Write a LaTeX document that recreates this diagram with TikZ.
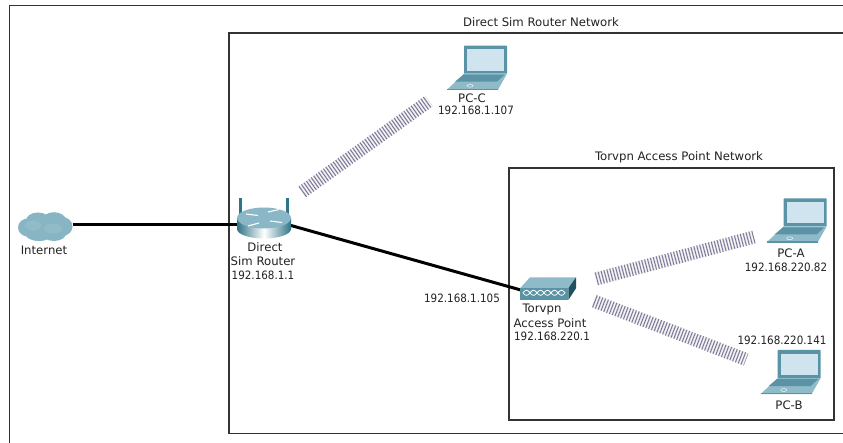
\documentclass[tikz,border=0pt]{standalone}
\usepackage{fontspec}
\setmainfont{DejaVu Sans}
\newfontfamily\ipfont[FakeStretch=0.9]{DejaVu Sans}
\usetikzlibrary{calc}
\definecolor{lapdark}{HTML}{5A93A6}
\definecolor{lapscreen}{HTML}{CFE4EE}
\definecolor{lapbase}{HTML}{8FBBC9}
\definecolor{routerside}{HTML}{2F7488}
\definecolor{framecol}{HTML}{333333}
\definecolor{txt}{HTML}{222222}
\definecolor{radiogray}{HTML}{CFCCD2}
\definecolor{radiodark}{HTML}{655C8C}
\tikzset{
  x=1pt,y=-1pt,
  framebox/.style={draw=framecol,line width=1.2pt},
  lbl/.style={font=\ipfont\fontsize{11.5}{12}\selectfont,text=txt,inner sep=0pt,anchor=center},
  namelbl/.style={lbl,font=\fontsize{11.7}{12}\selectfont},
  device/.style={inner sep=0pt,minimum width=#1,minimum height=20pt},
  wired/.style={draw=black,line width=3pt},
  wireless/.style={draw=radiogray,line width=13pt,dash pattern=on 1.9pt off 1.1pt,
    postaction={draw=radiodark,line width=13pt,dash pattern=on .55pt off 2.45pt,dash phase=-.65pt}},
  laptop/.pic={
    \fill[lapdark,rounded corners=.6pt] (0,0) -- (43,0) -- (43,28) -- (0,28) -- cycle;
    \fill[lapscreen] (3,3.7) -- (40,3.7) -- (40,25) -- (3,25) -- cycle;
    \fill[lapbase] (0,28) -- (43,28) -- (34,44) -- (-17,44) -- cycle;
    \fill[lapdark] (-.5,29) -- (40.5,29) -- (33,36) -- (-9,36) -- cycle;
    \fill[lapdark] (-17,43) -- (34,43) -- (34,44.3) -- (-17,44.3) -- cycle;
    \draw[white,line width=.4pt] (6,40) ellipse (3 and 1.5);
  },
}
\begin{document}
\begin{tikzpicture}
\useasboundingbox (0,0) rectangle (843,443);
\fill[white] (0,0) rectangle (843,443);
% frames
\draw[framebox] (843,5.5) -- (9.5,5.5) -- (9.5,443);
\draw[framebox] (843,33) -- (229,33) -- (229,433.5) -- (843,433.5);
\draw[framebox] (509,168) rectangle (834,420);
% device anchor nodes
\node[device=55pt] (internet) at (45,225) {};
\node[device=52pt] (router) at (263,225) {};
\node[device=52pt] (ap) at (547,290) {};
\node[device=60pt] (pcC) at (477,68) {};
\node[device=60pt] (pcA) at (797,220) {};
\node[device=60pt] (pcB) at (791,372) {};
% wireless
\draw[wireless,shorten <=48pt,shorten >=59pt] ($(router.center)+(0,-5)$) -- ($(pcC.center)+(0,-1.4)$);
\draw[wireless,shorten <=50.7pt,shorten >=44.5pt] ($(ap.center)+(0,2)$) -- ($(pcA.center)+(0,5.6)$);
\draw[wireless,shorten <=50.4pt,shorten >=48.2pt] ($(ap.center)+(0,-7)$) -- ($(pcB.center)+(0,4.8)$);
% wired
\draw[wired] (internet.east) -- (router.west);
\draw[wired] (router.east) -- (ap.west);
% cloud
\begin{scope}[shift={(45,226.5)}]
  \fill[lapbase!85!lapdark] (0,0) ellipse (24 and 11)
    (-17,1) ellipse (10 and 9) (17,0) ellipse (10.5 and 9.5)
    (-7,-6) ellipse (12 and 8) (9,-6) ellipse (12 and 8.3)
    (-6,7) ellipse (14 and 7.5) (9,7) ellipse (12 and 7.5);
  \fill[lapdark!45!white,opacity=.25] (-12,-1) ellipse (8 and 5) (8,2) ellipse (9 and 5);
\end{scope}
% router
\fill[routerside] (238.5,198) rectangle (241.5,216);
\fill[routerside] (285.5,198) rectangle (288.5,216);
\shade[left color=routerside,right color=routerside,middle color=white]
  (237,218) -- (237,229) arc[start angle=180,end angle=0,x radius=27,y radius=9.5] -- (291,218) -- cycle;
\fill[lapbase!90!lapdark] (264,218) ellipse (27 and 10.5);
\draw[white,line width=1.1pt] (246,214) -- (258,215.5) (270,221) -- (282,222.5)
  (268,212) -- (279,209.5) (248,226) -- (259,223);
% access point
\fill[lapbase] (520,288.3) -- (530,277.3) -- (576,277.3) -- (568.3,288.3) -- cycle;
\fill[lapdark] (520,288.3) rectangle (568.3,300);
\fill[routerside!70!black] (568.3,288.3) -- (576,277.3) -- (576,288.3) -- (568.3,300) -- cycle;
\draw[white,line width=.8pt] (523,292.8)
  \foreach \i in {0,1,2,3,4,5} { sin ++(3.5,-2.6) cos ++(3.5,2.6) }
  ;
\draw[white,line width=.8pt] (523,292.8)
  \foreach \i in {0,1,2,3,4,5} { sin ++(3.5,2.6) cos ++(3.5,-2.6) }
  ;
% laptops
\pic at (464,45.7) {laptop};
\pic at (783.7,198.3) {laptop};
\pic at (777.7,350) {laptop};
% labels
\node[namelbl] (t1) at (541,22) {Direct Sim Router Network};
\node[namelbl] (t2) at (679,157) {Torvpn Access Point Network};
\node[namelbl] (l1) at (44,250) {Internet};
\node[namelbl] (l2) at (265,247) {Direct};
\node[namelbl] (l3) at (263,261) {Sim Router};
\node[lbl] (l4) at (263,275) {192.168.1.1};
\node[namelbl] (l5) at (472,98) {PC-C};
\node[lbl] (l6) at (476,110) {192.168.1.107};
\node[lbl] (l7) at (462,298) {192.168.1.105};
\node[namelbl] (l8) at (542,309) {Torvpn};
\node[namelbl] (l9) at (550,323) {Access Point};
\node[lbl] (l10) at (552,336) {192.168.220.1};
\node[namelbl] (l11) at (791,253) {PC-A};
\node[lbl] (l12) at (786,267) {192.168.220.82};
\node[lbl] (l13) at (782,340) {192.168.220.141};
\node[namelbl] (l14) at (789,405) {PC-B};
\end{tikzpicture}
\end{document}
